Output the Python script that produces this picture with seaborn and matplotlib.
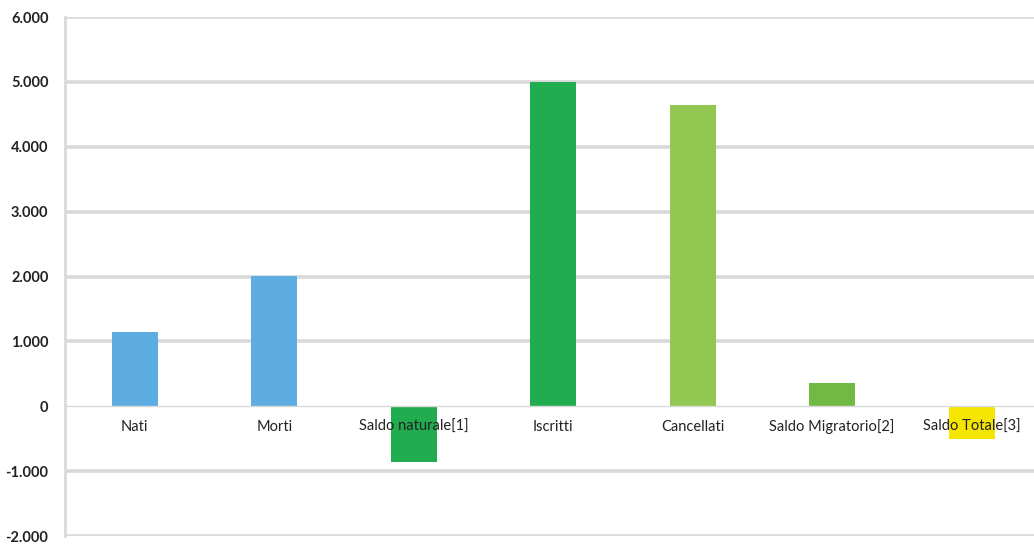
import matplotlib
matplotlib.use("Agg")
import matplotlib.pyplot as plt
import seaborn as sns
import pandas as pd
from matplotlib.ticker import FuncFormatter, FixedLocator

categories = ["Nati", "Morti", "Saldo naturale[1]", "Iscritti", "Cancellati",
              "Saldo Migratorio[2]", "Saldo Totale[3]"]
values = [1150, 2010, -862, 4995, 4645, 355, -507]
colors = ["#5DADE2", "#5DADE2", "#21AD4F", "#21AD4F", "#92C851", "#70BA44", "#F4E600"]
yticks = [-2000, -1000, 0, 1000, 2000, 3000, 4000, 5000, 6000]

df = pd.DataFrame({"cat": categories, "val": values})

sns.set_theme(style="white")
plt.rcParams["font.family"] = ["Lato", "DejaVu Sans"]

fig = plt.figure(figsize=(10.34, 5.44), dpi=100)
ax = fig.add_axes([0.063, 0.0147, 0.944, 0.954])

sns.barplot(data=df, x="cat", y="val", hue="cat", palette=colors, legend=False,
            width=0.33, saturation=1, ax=ax, zorder=1, linewidth=0, edgecolor="none")

ax.set_ylim(-2000, 6000)
ax.set_xlim(-0.5, 6.5)
ax.yaxis.set_major_locator(FixedLocator(yticks))
ax.yaxis.set_major_formatter(FuncFormatter(lambda v, p: f"{int(v):,}".replace(",", ".")))
for t in yticks:
    if t != 0:
        ax.axhline(t, color="#D9D9D9", lw=2.6, zorder=0.5)
ax.axhline(0, color="#D9D9D9", lw=1.0, zorder=2)

ax.set_xlabel("")
ax.set_ylabel("")
ax.spines["top"].set_visible(False)
ax.spines["right"].set_visible(False)
ax.spines["bottom"].set_visible(False)
ax.spines["left"].set_color("#D9D9D9")
ax.spines["left"].set_linewidth(2.0)

ax.tick_params(axis="y", length=0, pad=12, labelsize=10.5, labelcolor="#222222")
for lab in ax.get_yticklabels():
    lab.set_fontweight("bold")

# category labels placed along the zero line
ax.set_xticks(range(len(categories)))
ax.set_xticklabels([])
ax.tick_params(axis="x", length=0)
for i, c in enumerate(categories):
    ax.text(i, -385, c, ha="center", va="baseline", fontsize=10.5, color="#222222", zorder=5)

fig.savefig("out.png", dpi=100, facecolor="white")
